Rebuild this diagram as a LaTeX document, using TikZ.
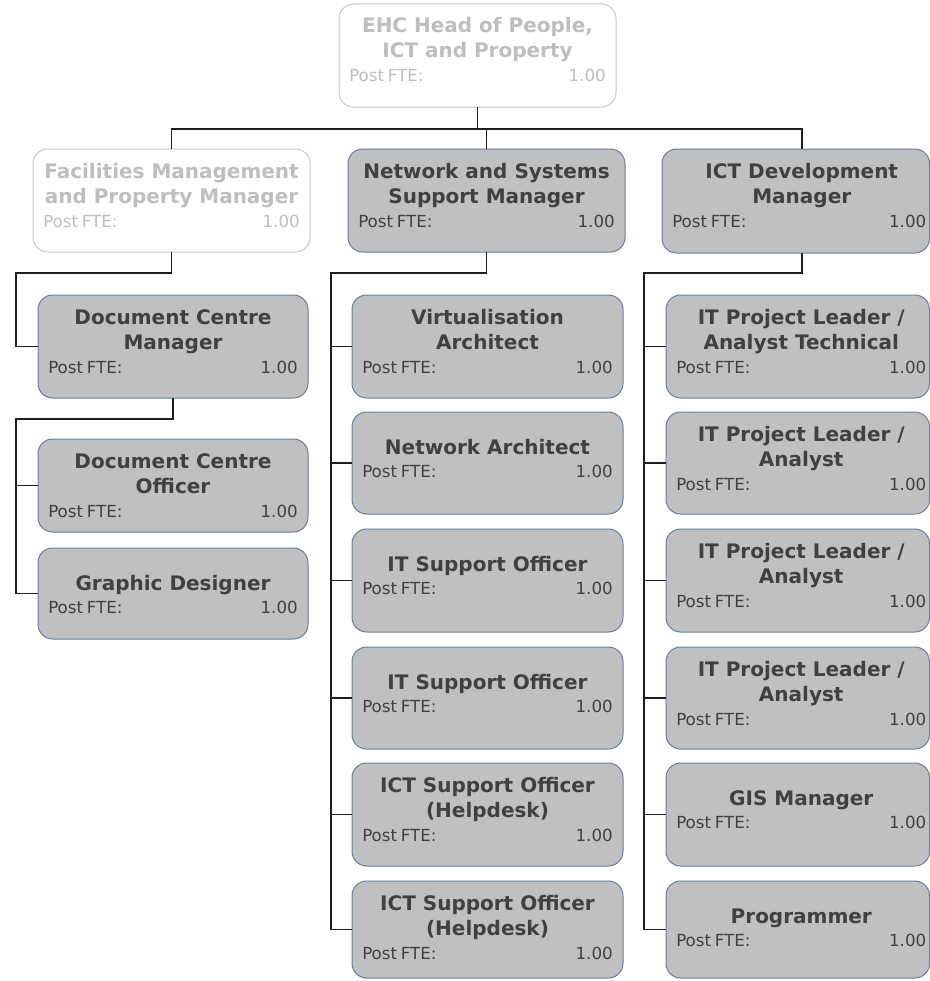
\documentclass[tikz,border=0pt]{standalone}
\usepackage{fontspec}
\setmainfont{DejaVu Sans}
\usetikzlibrary{calc}

\definecolor{boxfill}{RGB}{192,192,192}
\definecolor{boxedge}{RGB}{106,125,155}
\definecolor{boxtext}{RGB}{64,64,64}
\definecolor{vacantedge}{RGB}{200,200,200}
\definecolor{vacanttext}{RGB}{190,190,190}
\definecolor{linkcol}{RGB}{30,30,30}

\tikzset{
  filled box/.style={draw=boxedge, fill=boxfill, line width=0.75pt, rounded corners=11pt, inner sep=0pt, outer sep=0pt},
  vacant box/.style={draw=vacantedge, fill=white, line width=0.75pt, rounded corners=11pt, inner sep=0pt, outer sep=0pt},
  filled title/.style={anchor=base, inner sep=0pt, text=boxtext, font=\fontsize{15}{18}\selectfont\bfseries},
  vacant title/.style={anchor=base, inner sep=0pt, text=vacanttext, font=\fontsize{15}{18}\selectfont\bfseries},
  filled label/.style={inner sep=0pt, text=boxtext, font=\fontsize{12.5}{15}\selectfont},
  vacant label/.style={inner sep=0pt, text=vacanttext, font=\fontsize{12.5}{15}\selectfont},
  link/.style={draw=linkcol, line width=0.9pt}
}

% shift of the title centre and right padding of the value
\def\tshift{0}
\def\vpad{10}

% #1 name, #2 kind (filled/vacant), #3 left, #4 top, #5 right, #6 bottom,
% #7 first title line, #8 second title line (may be empty)
\newcommand\orgpost[8]{%
  \node[#2 box, anchor=north west,
        minimum width={(#5-#3)*0.75pt}, minimum height={(#6-#4)*0.75pt}] (#1) at (#3,#4) {};
  \if\relax\detokenize{#8}\relax
    \node[#2 title] (#1-t1) at ({(#3+#5)/2+\tshift},{#4+42}) {#7};
    \def\fteline{65}%
  \else
    \node[#2 title] (#1-t1) at ({(#3+#5)/2+\tshift},{#4+29}) {#7};
    \node[#2 title] (#1-t2) at ({(#3+#5)/2+\tshift},{#4+54}) {#8};
    \def\fteline{78}%
  \fi
  \node[#2 label, anchor=base west] (#1-l) at ({#3+10},{#4+\fteline}) {Post\kern0.22em FTE:};
  \node[#2 label, anchor=base east] (#1-v) at ({#5-\vpad},{#4+\fteline}) {1.00};
}

\begin{document}
\begin{tikzpicture}[x=0.75pt, y=-0.75pt]
  \fill[white] (0,0) rectangle (930,981);
  \useasboundingbox (0,0) rectangle (930,981);

  % head of service
  \orgpost{head}{vacant}{339}{4}{616}{107}{EHC Head of People,}{ICT and Property}

  % managers
  \orgpost{fac}{vacant}{33}{149}{310}{252}{Facilities Management}{and Property Manager}
  \orgpost{net}{filled}{348}{149}{625}{252}{Network and Systems}{Support Manager}
  \def\tshift{6}\def\vpad{3}
  \orgpost{ictdev}{filled}{662}{149}{929.5}{253}{ICT Development}{Manager}
  \def\tshift{0}\def\vpad{10}

  % document centre team
  \orgpost{dcm}{filled}{38}{295}{308}{398}{Document Centre}{Manager}
  \orgpost{dco}{filled}{38}{439}{308}{532}{Document Centre}{Officer}
  \orgpost{gd}{filled}{38}{548}{308}{639}{Graphic Designer}{}

  % network and systems team
  \orgpost{m1}{filled}{352}{295}{623}{398}{Virtualisation}{Architect}
  \orgpost{m2}{filled}{352}{412}{623}{514}{Network Architect}{}
  \orgpost{m3}{filled}{352}{529}{623}{632}{IT Support Officer}{}
  \orgpost{m4}{filled}{352}{647}{623}{749}{IT Support Officer}{}
  \orgpost{m5}{filled}{352}{763}{623}{866}{ICT Support Officer}{(Helpdesk)}
  \orgpost{m6}{filled}{352}{881}{623}{978}{ICT Support Officer}{(Helpdesk)}

  % ICT development team
  \def\tshift{3.5}\def\vpad{3}
  \orgpost{r1}{filled}{666}{295}{929.5}{398}{IT Project Leader /}{Analyst Technical}
  \orgpost{r2}{filled}{666}{412}{929.5}{514}{IT Project Leader /}{Analyst}
  \orgpost{r3}{filled}{666}{529}{929.5}{632}{IT Project Leader /}{Analyst}
  \orgpost{r4}{filled}{666}{647}{929.5}{749}{IT Project Leader /}{Analyst}
  \orgpost{r5}{filled}{666}{763}{929.5}{866}{GIS Manager}{}
  \orgpost{r6}{filled}{666}{881}{929.5}{978}{Programmer}{}
  \def\tshift{0}\def\vpad{10}

  % bus levels and rails
  \coordinate (rowbus) at (0,129);
  \coordinate (lvltwo) at (0,273);
  \coordinate (lvlthree) at (0,419);
  \coordinate (ictjoin) at (802,0);
  \coordinate (lrail) at (16,0);
  \coordinate (mrail) at (331,0);
  \coordinate (rrail) at (644,0);

  % head to managers
  \draw[link] (head.south) -- (head.south |- rowbus);
  \draw[link] (fac.north) -- (fac.north |- rowbus) -- (ictjoin |- rowbus) -- (ictjoin |- ictdev.north);
  \draw[link] (net.north) -- (net.north |- rowbus);

  % facilities branch
  \draw[link] (fac.south) |- (lrail |- lvltwo) -- (lrail |- dcm.west) -- (dcm.west);
  \draw[link] (dcm.south) |- (lrail |- lvlthree) -- (lrail |- gd.west) -- (gd.west);
  \draw[link] (lrail |- dco.west) -- (dco.west);

  % network and systems branch
  \draw[link] (net.south) |- (mrail |- lvltwo) -- (mrail |- m6.west) -- (m6.west);
  \foreach \k in {1,...,5} \draw[link] (mrail |- m\k.west) -- (m\k.west);

  % ICT development branch
  \draw[link] (ictjoin |- ictdev.south) |- (rrail |- lvltwo) -- (rrail |- r6.west) -- (r6.west);
  \foreach \k in {1,...,5} \draw[link] (rrail |- r\k.west) -- (r\k.west);
\end{tikzpicture}
\end{document}
